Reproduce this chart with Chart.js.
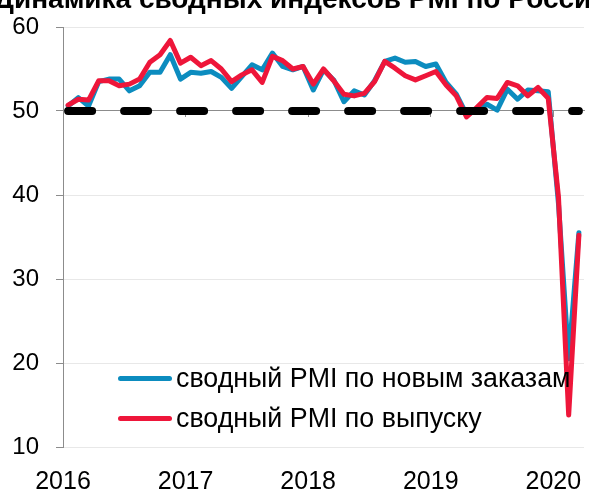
<!DOCTYPE html>
<html>
<head>
<meta charset="utf-8">
<script src="https://cdn.jsdelivr.net/npm/chart.js@4.4.0/dist/chart.umd.min.js"></script>
<style>
  html, body { margin: 0; padding: 0; background: #fff; overflow: hidden; }
  #wrap { position: relative; width: 589px; height: 491px; overflow: hidden; }
  #title {
    position: absolute; left: -6px; top: -17px; line-height: 30px;
    font: bold 28px "Liberation Sans", Arial, sans-serif; white-space: nowrap; color: #000;
  }
  #legend { position: absolute; left: 118px; top: 358px; font: 26.8px "Liberation Sans", Arial, sans-serif; color: #000; }
  .item { display: flex; align-items: center; height: 40px; white-space: nowrap; }
  .swatch { width: 54px; height: 5px; border-radius: 3px; margin-right: 4px; }
</style>
</head>
<body>
<div id="wrap">
  <canvas id="pmiChart" width="589" height="491"></canvas>
  <div id="title">Динамика сводных индексов PMI по России</div>
  <div id="legend"></div>
</div>
<script>
// годы и месяцы (категории оси X)
const years = ['2016', '2017', '2018', '2019', '2020'];
const yearStarts = [0, 12, 24, 36, 48];
const categories = [];
years.forEach(y => {
    for (let m = 1; m <= 12; m++) categories.push(y + '-' + String(m).padStart(2, '0'));
});
categories.length = 51;

// сводный PMI по новым заказам
const newOrders = [50.6, 51.6, 50.6, 53.5, 53.8, 53.8, 52.4, 53.0, 54.6, 54.6,
    56.7, 53.8, 54.6, 54.5, 54.7, 54.0, 52.7, 54.1, 55.5, 54.9,
    56.9, 55.3, 54.9, 55.3, 52.5, 54.9, 53.7, 51.1, 52.4, 51.9,
    53.6, 55.9, 56.3, 55.8, 55.9, 55.3, 55.6, 53.4, 52.0, 49.6,
    50.0, 50.8, 50.1, 52.6, 51.4, 52.5, 52.4, 52.3, 39.0, 20.5, 35.5];

// сводный PMI по выпуску
const output = [50.7, 51.4, 51.3, 53.6, 53.6, 53.0, 53.2, 53.8, 55.8, 56.7,
    58.4, 55.7, 56.4, 55.4, 56.0, 55.0, 53.5, 54.3, 54.9, 53.4,
    56.5, 56.0, 55.0, 55.3, 53.2, 55.0, 53.6, 52.0, 51.8, 52.1,
    53.5, 55.9, 55.1, 54.2, 53.7, 54.2, 54.7, 53.1, 51.8, 49.3,
    50.4, 51.6, 51.5, 53.4, 53.0, 51.8, 52.8, 51.5, 39.8, 13.8, 35.2];

const THRESHOLD = 50;
const BLUE = '#0c8cbf';
const RED = '#ee163a';
const AXIS_GRAY = '#8c8c8c';

Chart.defaults.font.family = '"Liberation Sans", Arial, sans-serif';
Chart.defaults.color = '#000';

const series = [
    { label: 'сводный PMI по новым заказам', data: newOrders, color: BLUE, order: 2 },
    { label: 'сводный PMI по выпуску', data: output, color: RED, order: 1 }
];

const datasets = series.map(s => ({
    label: s.label,
    data: s.data,
    borderColor: s.color,
    backgroundColor: s.color,
    borderWidth: 5,
    borderJoinStyle: 'round',
    borderCapStyle: 'round',
    pointRadius: 0,
    tension: 0,
    order: s.order
}));

// пунктир на уровне 50
datasets.push({
    label: '50',
    data: categories.map(() => THRESHOLD),
    borderColor: '#000',
    borderWidth: 8,
    borderDash: [24, 32],
    borderCapStyle: 'round',
    pointRadius: 0,
    order: 0
});

// убрать автоматические отступы под подписи
function noPadding(s) {
    s.paddingLeft = 0;
    s.paddingRight = 0;
    s.paddingTop = 0;
    s.paddingBottom = 0;
}

new Chart(document.getElementById('pmiChart'), {
    type: 'line',
    data: { labels: categories, datasets: datasets },
    options: {
        responsive: false,
        animation: false,
        layout: { padding: { top: 27, right: 5, left: 0, bottom: 0 } },
        plugins: {
            legend: { display: false },
            tooltip: { enabled: false }
        },
        scales: {
            x: {
                type: 'category',
                position: { y: THRESHOLD },
                offset: true,
                grid: {
                    offset: true,
                    drawOnChartArea: false,
                    drawTicks: true,
                    tickLength: 6,
                    tickColor: ctx => yearStarts.includes(ctx.index) ? AXIS_GRAY : 'rgba(0,0,0,0)'
                },
                border: { display: true, color: AXIS_GRAY, width: 1 },
                ticks: { display: false, autoSkip: false },
                afterFit: s => { s.height = 0; noPadding(s); }
            },
            xl: {
                type: 'linear',
                position: 'bottom',
                min: 0,
                max: categories.length,
                grid: { display: false, drawTicks: false },
                border: { display: false },
                ticks: {
                    padding: 20,
                    font: { size: 25 },
                    color: '#000',
                    callback: (v, i) => years[i]
                },
                afterBuildTicks: s => { s.ticks = yearStarts.map(v => ({ value: v })); },
                afterFit: s => { s.height = 44; noPadding(s); }
            },
            y: {
                min: 10,
                max: 60,
                ticks: { stepSize: 10, padding: 17, font: { size: 24 }, color: '#000' },
                grid: { color: '#e8e8e8', tickColor: AXIS_GRAY, tickLength: 7 },
                border: { color: AXIS_GRAY },
                afterFit: s => { s.width = 63; noPadding(s); }
            }
        }
    }
});

// легенда
const legend = document.getElementById('legend');
series.forEach(s => {
    const row = document.createElement('div');
    row.className = 'item';
    const sw = document.createElement('span');
    sw.className = 'swatch';
    sw.style.background = s.color;
    const txt = document.createElement('span');
    txt.textContent = s.label;
    row.appendChild(sw);
    row.appendChild(txt);
    legend.appendChild(row);
});
</script>
</body>
</html>
